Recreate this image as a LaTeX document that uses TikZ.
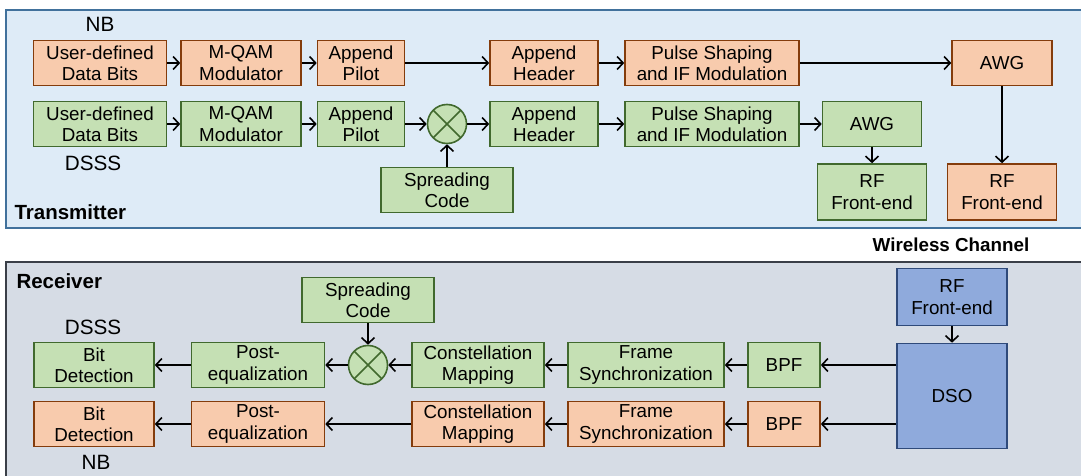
\documentclass[tikz,border=0pt]{standalone}
\usepackage{fontspec}
\setmainfont{Liberation Sans}
\usetikzlibrary{arrows.meta}
\definecolor{nbfill}{HTML}{F8CBAD}
\definecolor{nbdraw}{HTML}{843C0C}
\definecolor{dsfill}{HTML}{C5E0B4}
\definecolor{dsdraw}{HTML}{41692E}
\definecolor{rffill}{HTML}{8FAADC}
\definecolor{rfdraw}{HTML}{2F4A7A}
\definecolor{txbg}{HTML}{DEEBF7}
\definecolor{txline}{HTML}{41719C}
\definecolor{rxbg}{HTML}{D6DCE5}
\definecolor{rxline}{HTML}{3A3F48}

\begin{document}
\begin{tikzpicture}
[x=1pt,y=-1pt]
\tikzset{blk/.style={draw,line width=1.6,align=center,inner sep=0pt,minimum height=45,font=\fontsize{18.8}{21.3}\selectfont}}
\tikzset{nb/.style={blk,fill=nbfill,draw=nbdraw}}
\tikzset{ds/.style={blk,fill=dsfill,draw=dsdraw}}
\tikzset{rf/.style={blk,fill=rffill,draw=rfdraw}}
\tikzset{mix/.style={circle,draw=dsdraw,fill=dsfill,line width=1.6,minimum size=39,inner sep=0pt,
  path picture={\draw[dsdraw,line width=1.6] (path picture bounding box.north west) -- (path picture bounding box.south east)
  (path picture bounding box.north east) -- (path picture bounding box.south west);}}}
\tikzset{tag/.style={font=\fontsize{20.7}{24}\selectfont}}
\tikzset{title/.style={font=\fontsize{20.5}{24}\selectfont\bfseries,anchor=west}}
\tikzset{arr/.style={line width=1.6,-{Straight Barb[length=6,width=13,line width=1.6]}}}

\useasboundingbox (0,0) rectangle (1081,476);
\draw[fill=txbg,draw=txline,line width=1.6] (6,10) rectangle (1090,228);
\draw[fill=rxbg,draw=rxline,line width=1.6] (6,262) rectangle (1090,485);

% transmitter, NB
\node [tag] (lnb) at (100,24) {NB};
\node [nb,minimum width=133] (tnb1) at (100,63) {User-defined\\Data Bits};
\node [nb,minimum width=120] (tnb2) at (241,63) {M-QAM\\Modulator};
\node [nb,minimum width=87] (tnb3) at (361,63) {Append\\Pilot};
\node [nb,minimum width=108] (tnb4) at (544,63) {Append\\Header};
\node [nb,minimum width=174] (tnb5) at (712,63) {Pulse Shaping\\and IF Modulation};
\node [nb,minimum width=100] (tnb6) at (1002,63) {AWG};
\node [nb,minimum width=109,minimum height=56] (tnb7) at (1002,192) {RF\\Front-end};

% transmitter, DSSS
\node [tag] (lds) at (93,163) {DSSS};
\node [ds,minimum width=133] (tds1) at (100,124) {User-defined\\Data Bits};
\node [ds,minimum width=120] (tds2) at (241,124) {M-QAM\\Modulator};
\node [ds,minimum width=87] (tds3) at (361,124) {Append\\Pilot};
\node [mix] (tmix) at (447,124) {};
\node [ds,minimum width=132] (tcode) at (447,190) {Spreading\\Code};
\node [ds,minimum width=108] (tds4) at (544,124) {Append\\Header};
\node [ds,minimum width=174] (tds5) at (712,124) {Pulse Shaping\\and IF Modulation};
\node [ds,minimum width=99] (tds6) at (872,124) {AWG};
\node [ds,minimum width=109,minimum height=56] (tds7) at (872,192) {RF\\Front-end};

\node [title] (ltx) at (11,212) {Transmitter};
\node [font=\fontsize{18.8}{22}\selectfont\bfseries] (lch) at (951,245) {Wireless Channel};
\node [title] (lrx) at (13,281) {Receiver};

% receiver
\node [rf,minimum width=110,minimum height=57] (rrf) at (952,297) {RF\\Front-end};
\node [rf,minimum width=110,minimum height=105] (dso) at (952,396) {DSO};

\node [ds,minimum width=132] (rcode) at (368,300) {Spreading\\Code};
\node [tag] (rlds) at (93,327) {DSSS};
\node [ds,minimum width=72] (rds1) at (784,365) {BPF};
\node [ds,minimum width=156] (rds2) at (646,365) {Frame\\Synchronization};
\node [ds,minimum width=132] (rds3) at (478,365) {Constellation\\Mapping};
\node [mix] (rmix) at (368,365) {};
\node [ds,minimum width=133] (rds4) at (258,365) {Post-\\equalization};
\node [ds,minimum width=120] (rds5) at (94,365) {Bit\\Detection};

\node [nb,minimum width=72] (rnb1) at (784,424) {BPF};
\node [nb,minimum width=156] (rnb2) at (646,424) {Frame\\Synchronization};
\node [nb,minimum width=132] (rnb3) at (478,424) {Constellation\\Mapping};
\node [nb,minimum width=133] (rnb4) at (258,424) {Post-\\equalization};
\node [nb,minimum width=120] (rnb5) at (94,424) {Bit\\Detection};
\node [tag] (rlnb) at (96,462) {NB};

\foreach \from/\to in {tnb1/tnb2,tnb2/tnb3,tnb3/tnb4,tnb4/tnb5,tnb5/tnb6,tnb6/tnb7,
  tds1/tds2,tds2/tds3,tds3/tmix,tcode/tmix,tmix/tds4,tds4/tds5,tds5/tds6,tds6/tds7,
  rrf/dso,rds1/rds2,rds2/rds3,rds3/rmix,rcode/rmix,rmix/rds4,rds4/rds5,
  rnb1/rnb2,rnb2/rnb3,rnb3/rnb4,rnb4/rnb5}
	\draw [arr] (\from) -- (\to);
\draw [arr] (dso.west |- rds1) -- (rds1);
\draw [arr] (dso.west |- rnb1) -- (rnb1);

\end{tikzpicture}
\end{document}
